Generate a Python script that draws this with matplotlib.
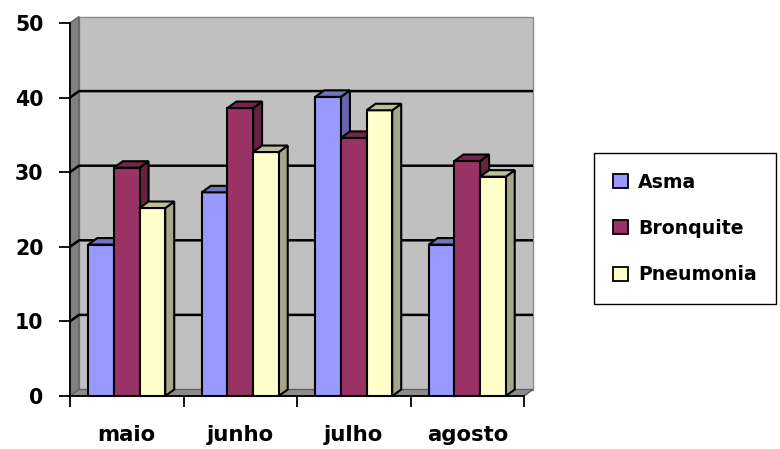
import matplotlib
matplotlib.use("Agg")
import matplotlib.pyplot as plt
from matplotlib.patches import Polygon, Patch

plt.rcParams['font.family'] = ['DejaVu Sans']
plt.rcParams['font.weight'] = 'bold'

# dados
meses = ['maio', 'junho', 'julho', 'agosto']
series = ['Asma', 'Bronquite', 'Pneumonia']
asma = [20.3, 27.3, 40.1, 20.3]
bronquite = [30.6, 38.6, 34.6, 31.5]
pneumonia = [25.2, 32.7, 38.3, 29.4]
valores = [asma, bronquite, pneumonia]

cor_frente = ['#9999FF', '#993366', '#FFFFCC']
cor_topo = ['#7373BF', '#73264D', '#BFBF99']
cor_lado = ['#6666AA', '#66223F', '#A6A688']

fig = plt.figure(figsize=(7.8, 4.49), dpi=100)
ax = fig.add_axes([70 / 780, 1 - 396 / 449, 454 / 780, 373 / 449])
ax.set_xlim(-0.5, 3.5)
ax.set_ylim(0, 50)

# profundidade do efeito 3D (em unidades dos eixos)
dx = 9 / 113.5
dy = 6.5 / 7.46
x0, x1 = -0.5, 3.5

# parede do fundo, parede lateral e piso
ax.add_patch(Polygon([(x0 + dx, dy), (x1 + dx, dy), (x1 + dx, 50 + dy), (x0 + dx, 50 + dy)],
                     closed=True, facecolor='#C0C0C0', edgecolor='#8a8a8a', lw=1,
                     clip_on=False, zorder=1))
ax.add_patch(Polygon([(x0, 0), (x0 + dx, dy), (x0 + dx, 50 + dy), (x0, 50)],
                     closed=True, facecolor='#808080', edgecolor='#606060', lw=1,
                     clip_on=False, zorder=1))
ax.add_patch(Polygon([(x0, 0), (x1, 0), (x1 + dx, dy), (x0 + dx, dy)],
                     closed=True, facecolor='#8C8C8C', edgecolor='#606060', lw=1,
                     clip_on=False, zorder=1))

# linhas de grade
for v in [10, 20, 30, 40]:
    ax.plot([x0, x0 + dx, x1 + dx], [v, v + dy, v + dy], color='black', lw=1.8,
            clip_on=False, zorder=2, solid_capstyle='butt')

# colunas 3D
largura = 0.226
z = 3
for i in range(len(meses)):
    for j in range(len(series)):
        v = valores[j][i]
        esq = i + (j - 1.5) * largura
        dir_ = esq + largura
        frente = [(esq, 0), (dir_, 0), (dir_, v), (esq, v)]
        lado = [(dir_, 0), (dir_ + dx, dy), (dir_ + dx, v + dy), (dir_, v)]
        topo = [(esq, v), (dir_, v), (dir_ + dx, v + dy), (esq + dx, v + dy)]
        for pts, cor in [(lado, cor_lado[j]), (frente, cor_frente[j]), (topo, cor_topo[j])]:
            ax.add_patch(Polygon(pts, closed=True, facecolor=cor, edgecolor='black',
                                 lw=1.5, joinstyle='miter', clip_on=False, zorder=z))
        z += 1

for s in ['top', 'right']:
    ax.spines[s].set_visible(False)
ax.spines['left'].set_linewidth(1.3)
ax.spines['bottom'].set_linewidth(1.3)
ax.spines['left'].set_zorder(50)
ax.spines['bottom'].set_zorder(50)

ax.set_yticks([0, 10, 20, 30, 40, 50])
ax.tick_params(axis='y', length=8, width=1.3, pad=11, labelsize=14.8)
ax.set_xticks([-0.5, 0.5, 1.5, 2.5, 3.5])
ax.set_xticklabels([])
ax.set_xticks(range(len(meses)), minor=True)
ax.set_xticklabels(meses, minor=True)
ax.tick_params(axis='x', which='major', length=8, width=1.3)
ax.tick_params(axis='x', which='minor', length=0, pad=21, labelsize=15.3)
for lb in ax.get_yticklabels() + ax.get_xticklabels(minor=True):
    lb.set_fontweight('bold')

handles = [Patch(facecolor=c, edgecolor='black', lw=1.3) for c in cor_frente]
leg = fig.legend(handles, series, loc='center',
                 bbox_to_anchor=((593 + 777) / 2 / 780, 1 - (155 + 302) / 2 / 449),
                 fancybox=False, edgecolor='black', framealpha=1,
                 prop={'size': 13.6, 'weight': 'bold'},
                 handlelength=0.75, handleheight=0.75, handletextpad=0.55,
                 labelspacing=1.45, borderpad=1.05)
leg.get_frame().set_linewidth(1.0)

fig.savefig('out.png', dpi=100)
